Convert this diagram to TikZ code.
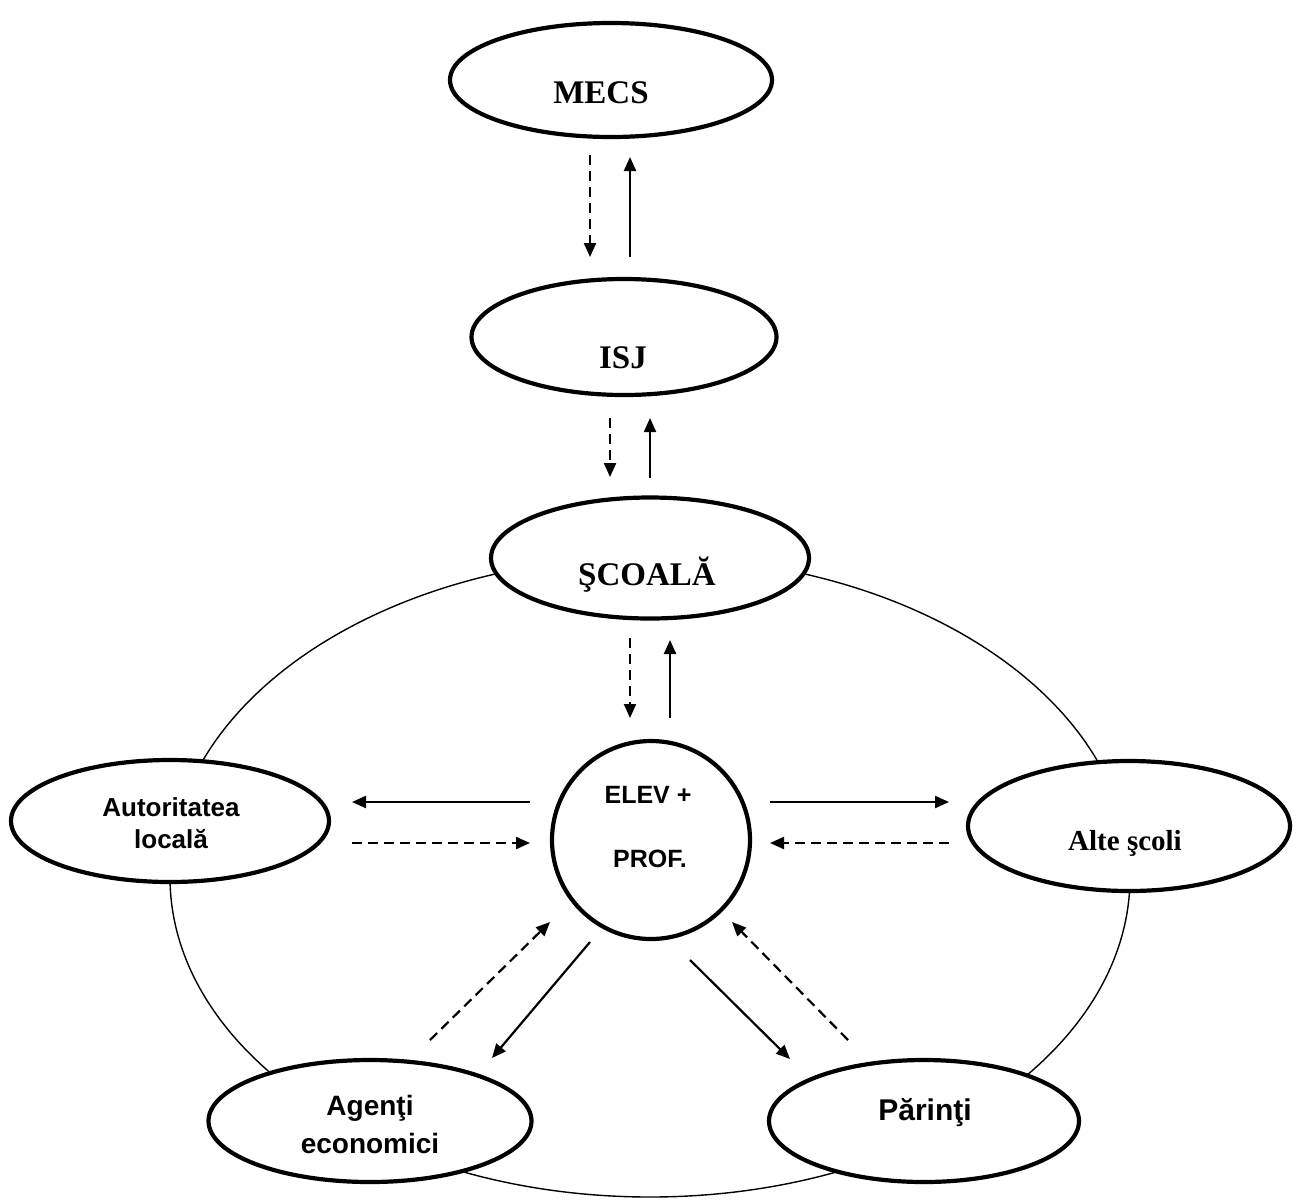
\documentclass[tikz,border=0pt]{standalone}
\usepackage{fontspec}
\setmainfont{Liberation Serif}
\newfontfamily\arialf{Liberation Sans}
\usetikzlibrary{shapes.geometric,arrows.meta}
\begin{document}
\begin{tikzpicture}[x=1pt,y=-1pt,
  box/.style={draw,ellipse,line width=4.2pt,fill=white,inner sep=0pt},
  ring/.style={draw,circle,line width=4.2pt,fill=white,inner sep=0pt,minimum size=198pt},
  outline/.style={draw,ellipse,line width=1.4pt,inner sep=0pt},
  serl/.style={inner sep=0pt,anchor=base,font=\fontsize{33}{36}\selectfont\bfseries},
  sanl/.style={inner sep=0pt,anchor=base,font=\arialf\bfseries},
  arr/.style={line width=2.2pt,-{Triangle[length=14pt,width=12pt]}},
  darr/.style={arr,dash pattern=on 10pt off 6pt}]
\useasboundingbox (0,0) rectangle (1296,1203);
\fill[white] (0,0) rectangle (1296,1203);

% outer ring
\node[outline,minimum width=960pt,minimum height=640pt] (outer) at (650,877) {};

% ellipses
\node[box,minimum width=322pt,minimum height=114pt] (mecs) at (611,80) {};
\node[box,minimum width=305pt,minimum height=116pt] (isj) at (624,337) {};
\node[box,minimum width=318pt,minimum height=121pt] (scoala) at (650,558) {};
\node[box,minimum width=318pt,minimum height=122pt] (aut) at (170,821) {};
\node[box,minimum width=322pt,minimum height=130pt] (alte) at (1129,826) {};
\node[box,minimum width=323pt,minimum height=122pt] (agenti) at (370,1121) {};
\node[box,minimum width=310pt,minimum height=122pt] (parinti) at (924,1121) {};
\node[ring] (elev) at (651,840) {};

% texts
\node[serl] (mecsT) at (601,103) {MECS};
\node[serl] (isjT) at (623,368) {ISJ};
\node[serl] (scoalaT) at (647,585) {ŞCOALĂ};
\node[serl,font=\fontsize{29}{31}\selectfont\bfseries] (alteT) at (1125,850) {Alte şcoli};
\node[sanl,font=\arialf\bfseries\fontsize{26}{28}\selectfont] (autT1) at (171,816) {Autoritatea};
\node[sanl,font=\arialf\bfseries\fontsize{26}{28}\selectfont] (autT2) at (171,848) {locală};
\node[sanl,font=\arialf\bfseries\fontsize{28}{30}\selectfont] (agT1) at (370,1115) {Agenţi};
\node[sanl,font=\arialf\bfseries\fontsize{28}{30}\selectfont] (agT2) at (370,1153) {economici};
\node[sanl,font=\arialf\bfseries\fontsize{30}{32}\selectfont] (parT) at (925,1120) {Părinţi};
\node[sanl,font=\arialf\bfseries\fontsize{25}{27}\selectfont] (elevT1) at (648,803) {ELEV +};
\node[sanl,font=\arialf\bfseries\fontsize{25}{27}\selectfont] (elevT2) at (650,867) {PROF.};

% arrow end points
\coordinate (a1) at (590,155); \coordinate (a2) at (590,257);
\coordinate (b1) at (630,257); \coordinate (b2) at (630,157);
\coordinate (c1) at (610,418); \coordinate (c2) at (610,477);
\coordinate (d1) at (650,478); \coordinate (d2) at (650,418);
\coordinate (e1) at (630,638); \coordinate (e2) at (630,718);
\coordinate (f1) at (670,718); \coordinate (f2) at (670,640);
\coordinate (g1) at (530,802); \coordinate (g2) at (352,802);
\coordinate (h1) at (352,843); \coordinate (h2) at (530,843);
\coordinate (i1) at (770,802); \coordinate (i2) at (949,802);
\coordinate (j1) at (949,843); \coordinate (j2) at (770,843);
\coordinate (k1) at (430,1040); \coordinate (k2) at (550,922);
\coordinate (l1) at (590,942); \coordinate (l2) at (492,1058);
\coordinate (m1) at (848,1040); \coordinate (m2) at (732,922);
\coordinate (n1) at (690,960); \coordinate (n2) at (790,1059);

\draw[darr] (a1) -- (a2);
\draw[arr] (b1) -- (b2);
\draw[darr] (c1) -- (c2);
\draw[arr] (d1) -- (d2);
\draw[darr] (e1) -- (e2);
\draw[arr] (f1) -- (f2);
\draw[arr] (g1) -- (g2);
\draw[darr] (h1) -- (h2);
\draw[arr] (i1) -- (i2);
\draw[darr] (j1) -- (j2);
\draw[darr] (k1) -- (k2);
\draw[arr] (l1) -- (l2);
\draw[darr] (m1) -- (m2);
\draw[arr] (n1) -- (n2);
\end{tikzpicture}
\end{document}
